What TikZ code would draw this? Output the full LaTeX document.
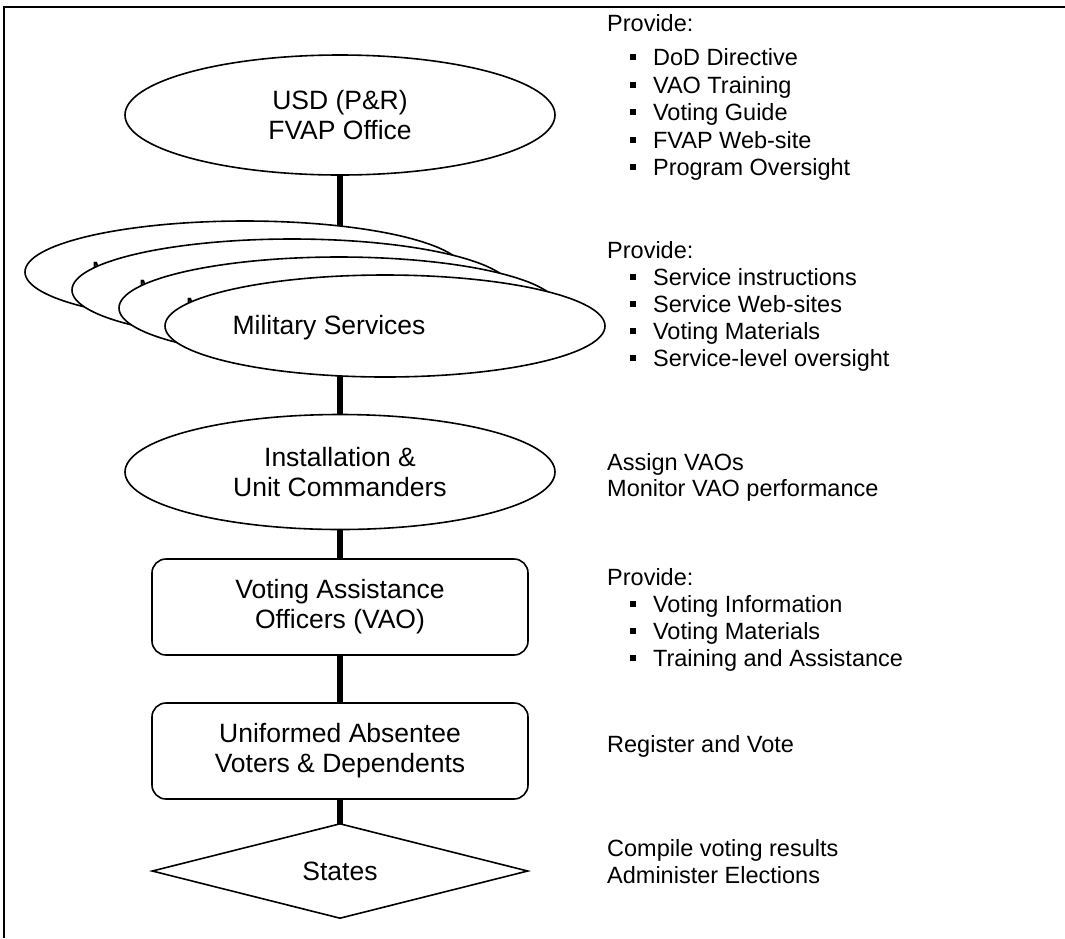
\documentclass[tikz,border=0pt]{standalone}
\usepackage{fontspec}
\setmainfont{Liberation Sans}
\usetikzlibrary{shapes.geometric,backgrounds}
\newcommand\sqbul{\rule[0.22em]{0.25em}{0.25em}\hspace{17pt}}
\begin{document}
\begin{tikzpicture}[x=1pt,y=-1pt,
  shapeline/.style={draw=black,line width=1.6pt,fill=white},
  oval/.style={shapeline,ellipse,inner sep=0pt,align=center,font=\fontsize{26.5}{30}\selectfont},
  stackoval/.style={oval,minimum width=440pt,minimum height=102pt},
  rbox/.style={shapeline,rectangle,rounded corners=14pt,minimum width=376pt,minimum height=96pt,inner sep=0pt,align=center,font=\fontsize{26.5}{30}\selectfont},
  conn/.style={line width=5.5pt,black},
  lbl/.style={font=\fontsize{26.5}{30}\selectfont,align=center,inner sep=0pt},
  side/.style={font=\fontsize{23.5}{27}\selectfont,anchor=base west,inner sep=0pt},
]
\useasboundingbox (0,0) rectangle (1065,938);
\draw[line width=2pt] (4,938) -- (4,7) -- (1065,7);

% main chain
\node[oval,minimum width=430pt,minimum height=120pt] (usd) at (340,115) {USD (P\&R)\\FVAP Office};

\node[stackoval] (msA) at (245,272) {};
\node[lbl] (msAt) at (188,274) {Military Services};
\node[stackoval] (msB) at (292,290) {};
\node[lbl] (msBt) at (235,292) {Military Services};
\node[stackoval] (msC) at (339,308) {};
\node[lbl] (msCt) at (282,310) {Military Services};
\node[stackoval] (msD) at (385,326) {};
\node[lbl] (msDt) at (329,328) {Military Services};

\node[oval,minimum width=430pt,minimum height=115pt] (inst) at (340,472) {Installation \&\\Unit Commanders};
\node[rbox] (vao) at (340,607) {Voting Assistance\\Officers (VAO)};
\node[rbox] (uav) at (340,751) {Uniformed Absentee\\Voters \& Dependents};
\node[shapeline,diamond,aspect=3.96,minimum width=376pt,minimum height=95pt,inner sep=0pt,font=\fontsize{26.5}{30}\selectfont] (states) at (340,871) {States};

\begin{scope}[on background layer]
\draw[conn] (usd.center) -- (inst.center);
\draw[conn] (inst.center) -- (vao.center);
\draw[conn] (vao.center) -- (uav.center);
\draw[conn] (uav.center) -- (states.center);
\end{scope}

% side texts
\node[side] (p1) at (607,31) {Provide:};
\node[side] (p1a) at (630,65) {\sqbul DoD Directive};
\node[side] (p1b) at (630,93) {\sqbul VAO Training};
\node[side] (p1c) at (630,120) {\sqbul Voting Guide};
\node[side] (p1d) at (630,148) {\sqbul FVAP Web-site};
\node[side] (p1e) at (630,175) {\sqbul Program Oversight};

\node[side] (p2) at (607,258) {Provide:};
\node[side] (p2a) at (630,285) {\sqbul Service instructions};
\node[side] (p2b) at (630,312) {\sqbul Service Web-sites};
\node[side] (p2c) at (630,339) {\sqbul Voting Materials};
\node[side] (p2d) at (630,366) {\sqbul Service-level oversight};

\node[side] (p3a) at (607,470) {Assign VAOs};
\node[side] (p3b) at (607,496) {Monitor VAO performance};

\node[side] (p4) at (607,585) {Provide:};
\node[side] (p4a) at (630,612) {\sqbul Voting Information};
\node[side] (p4b) at (630,639) {\sqbul Voting Materials};
\node[side] (p4c) at (630,666) {\sqbul Training and Assistance};

\node[side] (p5) at (607,752) {Register and Vote};

\node[side] (p6a) at (607,856) {Compile voting results};
\node[side] (p6b) at (607,883) {Administer Elections};
\end{tikzpicture}
\end{document}
